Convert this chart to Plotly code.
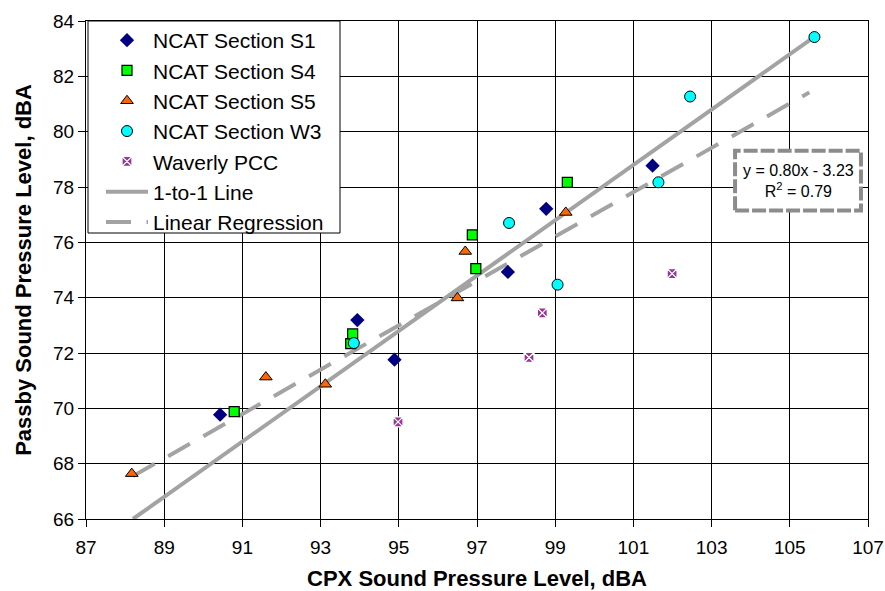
import plotly.graph_objects as go

# ---- data ----
s1_x = [90.43, 93.94, 94.89, 97.79, 98.77, 101.49]
s1_y = [69.77, 73.19, 71.76, 74.93, 77.21, 78.77]
s4_x = [90.79, 93.77, 93.82, 96.97, 96.88, 99.31]
s4_y = [69.88, 72.34, 72.69, 75.05, 76.27, 78.17]
s5_x = [88.17, 91.60, 93.12, 96.50, 96.70, 99.27]
s5_y = [67.64, 71.13, 70.87, 73.99, 75.67, 77.08]
w3_x = [93.85, 97.82, 99.06, 101.64, 102.45, 105.63]
w3_y = [72.36, 76.70, 74.47, 78.17, 81.27, 83.42]
pcc_x = [94.98, 98.33, 98.67, 101.99]
pcc_y = [69.51, 71.84, 73.45, 74.87]
one_x = [88.2, 105.6]
one_y = [66.0, 83.4]
reg_x = [88.2, 105.5]
reg_y = [67.55, 81.42]
x_ticks = list(range(87, 108, 2))
y_ticks = list(range(66, 85, 2))
eq_text = "y = 0.80x - 3.23<br>R<sup>2</sup> = 0.79"

FONT = "Liberation Sans, Arial, sans-serif"
LINE_GRAY = "#A3A3A3"

W, H = 885, 591
ML, MR, MT, MB = 86, 17, 21, 72
PW, PH = W - ML - MR, H - MT - MB


def px_x(p):
    return (p - ML) / PW


def px_y(p):
    return 1 - (p - MT) / PH


fig = go.Figure()

fig.add_trace(go.Scatter(x=one_x, y=one_y, mode="lines", name="1-to-1 Line",
                         line=dict(color=LINE_GRAY, width=4), legendrank=6))
fig.add_trace(go.Scatter(x=reg_x, y=reg_y, mode="lines", name="Linear Regression",
                         line=dict(color=LINE_GRAY, width=4, dash="25px,15.5px"),
                         legendrank=7))

fig.add_trace(go.Scatter(x=s1_x, y=s1_y, mode="markers", name="NCAT Section S1",
                         marker=dict(symbol="diamond", size=11, color="#000080",
                                     line=dict(color="#000080", width=0)),
                         legendrank=1))
fig.add_trace(go.Scatter(x=s4_x, y=s4_y, mode="markers", name="NCAT Section S4",
                         marker=dict(symbol="square", size=10, color="#00FF00",
                                     line=dict(color="black", width=1.2)),
                         legendrank=2))
fig.add_trace(go.Scatter(x=s5_x, y=s5_y, mode="markers", name="NCAT Section S5",
                         marker=dict(symbol="triangle-up", size=11, color="#FF6600",
                                     line=dict(color="black", width=1)),
                         legendrank=3))
fig.add_trace(go.Scatter(x=w3_x, y=w3_y, mode="markers", name="NCAT Section W3",
                         marker=dict(symbol="circle", size=11, color="#00FFFF",
                                     line=dict(color="black", width=1)),
                         legendrank=4))
fig.add_trace(go.Scatter(x=pcc_x, y=pcc_y, mode="markers", name="Waverly PCC",
                         marker=dict(symbol="square-x", size=10, color="#993399",
                                     line=dict(color="white", width=1.3)),
                         legendrank=5))

# legend frame
fig.add_shape(type="rect", xref="paper", yref="paper",
              x0=px_x(88), x1=px_x(340), y0=px_y(233), y1=px_y(21),
              fillcolor="white", line=dict(color="black", width=1), layer="above")

# equation box
fig.add_shape(type="rect", xref="x", yref="y", x0=103.6, x1=106.82, y0=77.15, y1=79.31,
              fillcolor="white", line=dict(color="#8C8C8C", width=4, dash="14px,3px"),
              layer="above")
fig.add_annotation(x=105.21, y=78.23, xref="x", yref="y", text=eq_text,
                   showarrow=False, font=dict(family=FONT, size=16, color="black"),
                   align="center")

fig.update_layout(
    width=W, height=H,
    margin=dict(l=ML, r=MR, t=MT, b=MB),
    paper_bgcolor="white", plot_bgcolor="white",
    font=dict(family=FONT, color="black"),
    legend=dict(x=px_x(101), y=px_y(20), xanchor="left", yanchor="top",
                bgcolor="rgba(0,0,0,0)", borderwidth=0,
                font=dict(family=FONT, size=21, color="black"),
                itemwidth=42, tracegroupgap=0),
    showlegend=True,
)

fig.update_xaxes(range=[87, 107], tickvals=x_ticks, ticktext=[str(v) for v in x_ticks],
                 automargin=False,
                 showgrid=True, gridcolor="black", gridwidth=1,
                 showline=True, linecolor="black", linewidth=1, mirror=True,
                 ticks="outside", ticklen=7, tickcolor="black",
                 ticklabelstandoff=4,
                 tickfont=dict(family=FONT, size=19, color="black"),
                 zeroline=False,
                 title=dict(text="<b>CPX Sound Pressure Level, dBA</b>",
                            font=dict(family=FONT, size=22, color="black"),
                            standoff=17))
fig.update_yaxes(range=[66, 84], tickvals=y_ticks, ticktext=[str(v) for v in y_ticks],
                 automargin=False,
                 showgrid=True, gridcolor="black", gridwidth=1,
                 showline=True, linecolor="black", linewidth=1, mirror=True,
                 ticks="outside", ticklen=7, tickcolor="black",
                 tickfont=dict(family=FONT, size=19, color="black"),
                 zeroline=False,
                 title=dict(text="<b>Passby Sound Pressure Level, dBA</b>",
                            font=dict(family=FONT, size=22, color="black"),
                            standoff=15))

fig.write_html("out.html")
